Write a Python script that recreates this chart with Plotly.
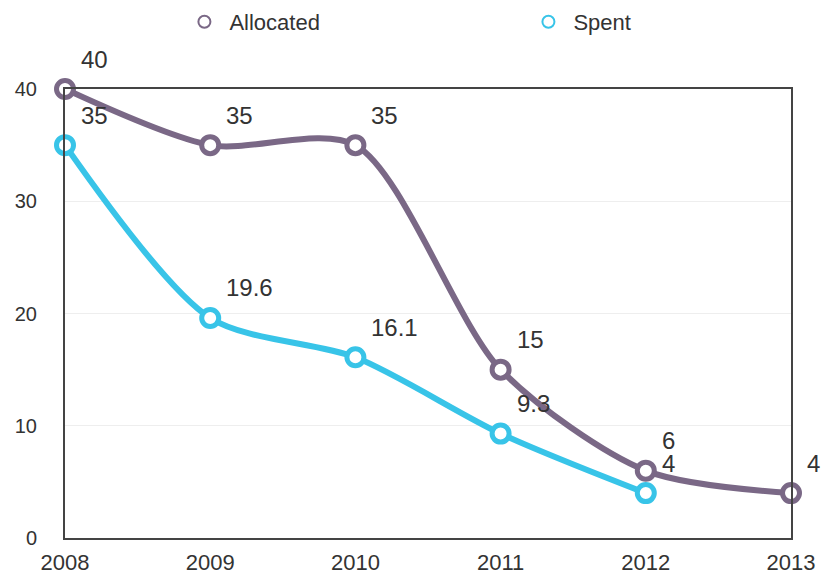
import plotly.graph_objects as go

years = [2008, 2009, 2010, 2011, 2012, 2013]
allocated = [40, 35, 35, 15, 6, 4]
spent_years = [2008, 2009, 2010, 2011, 2012]
spent = [35, 19.6, 16.1, 9.3, 4]
y_ticks = [0, 10, 20, 30, 40]

alloc_color = "#7a6886"
spent_color = "#38c4e8"
font_family = "Liberation Sans, Arial, sans-serif"

fig = go.Figure()

fig.add_trace(go.Scatter(
    x=years, y=allocated, mode="lines+markers",
    line=dict(color=alloc_color, width=6, shape="spline", smoothing=0.8),
    marker=dict(size=17, color="white", line=dict(color=alloc_color, width=5)),
    showlegend=False, cliponaxis=False,
))
fig.add_trace(go.Scatter(
    x=spent_years, y=spent, mode="lines+markers",
    line=dict(color=spent_color, width=6, shape="spline", smoothing=0.8),
    marker=dict(size=17, color="white", line=dict(color=spent_color, width=5)),
    showlegend=False, cliponaxis=False,
))

# value labels
for xs, ys in ((years, allocated), (spent_years, spent)):
    for xv, yv in zip(xs, ys):
        fig.add_annotation(
            x=xv, y=yv, text=str(yv), showarrow=False,
            xanchor="left", yanchor="middle", xshift=14, yshift=30,
            font=dict(size=24, color="#333333", family=font_family),
        )

# legend entries (two separate legends so each can be placed freely)
fig.add_trace(go.Scatter(
    x=[None], y=[None], mode="markers", name="Allocated", legend="legend",
    marker=dict(symbol="circle-open", size=9, color=alloc_color, line=dict(width=3)),
))
fig.add_trace(go.Scatter(
    x=[None], y=[None], mode="markers", name="Spent", legend="legend2",
    marker=dict(symbol="circle-open", size=9, color=spent_color, line=dict(width=3)),
))

legend_common = dict(
    orientation="h", yanchor="middle", yref="container",
    xref="container", xanchor="left", itemwidth=40,
    font=dict(size=22, color="#333333"), itemsizing="constant",
    bgcolor="rgba(0,0,0,0)",
)

fig.update_layout(
    width=823, height=578,
    margin=dict(l=65, r=32, t=89, b=40),
    paper_bgcolor="white", plot_bgcolor="white",
    font=dict(family=font_family, color="#333333"),
    legend=dict(legend_common, x=0.218, y=0.962),
    legend2=dict(legend_common, x=0.636, y=0.962),
    showlegend=True,
)

fig.update_xaxes(
    range=[2008, 2013], tickvals=years, ticktext=[str(y) for y in years],
    showgrid=False, zeroline=False, showline=True, linecolor="#444444", linewidth=2,
    mirror=True, ticks="", tickfont=dict(size=22, color="#333333"),
    ticklabelstandoff=4, automargin=False,
)
fig.update_yaxes(
    range=[0, 40], tickvals=y_ticks, showgrid=True, gridcolor="#eeeeee", gridwidth=1,
    zeroline=False, showline=True, linecolor="#444444", linewidth=2, mirror=True,
    ticks="", tickfont=dict(size=20, color="#333333"), ticklabelstandoff=22,
    automargin=False,
)

fig.write_html("out.html")
